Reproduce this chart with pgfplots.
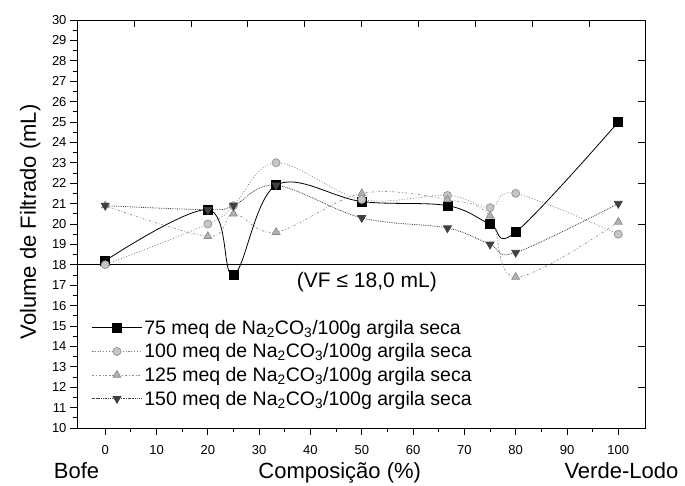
\documentclass[border=0pt]{standalone}
\usepackage{pgfplots}
\pgfplotsset{compat=1.18}
\usepackage{fontspec}
\setmainfont{Liberation Sans}
\begin{document}
\begin{tikzpicture}
\begin{axis}[
  name=ax,
  scale only axis,
  width=568pt, height=408pt,
  xmin=-5.5, xmax=105.2, ymin=10, ymax=30,
  xtick={0,10,...,100}, minor x tick num=1,
  ytick={10,11,...,30}, minor y tick num=1,
  tick align=outside,
  xtick pos=left, ytick pos=left,
  major tick length=7pt, minor tick length=4pt,
  tick style={black, line width=0.8pt},
  axis line style={line width=0.9pt},
  ticklabel style={font=\fontsize{13}{15}\selectfont},
  xticklabel style={yshift=-7pt},
  /pgf/number format/assume math mode=true,
  clip=false,
  legend style={at={(0.02,0.275)}, anchor=north west, draw=none, fill=none,
    font=\fontsize{19.5}{22}\selectfont, row sep=4pt, legend cell align=left},
  legend image code/.code={\draw[mark repeat=2,mark phase=2,#1] plot coordinates {(0pt,0pt)(25pt,0pt)(50pt,0pt)};},
]
\addplot[black, forget plot, line width=0.9pt] coordinates {(-5.5,18) (105.2,18)};

\addplot[black, line width=0.8pt, smooth, tension=0.6, mark=square*, mark size=4.5pt, mark options={solid, fill=black}]
  coordinates {(0,18.2)(20,20.7)(25,17.5)(33.3,21.9)(50,21.1)(66.7,20.9)(75,20.0)(80,19.6)(100,25.0)};
\addlegendentry{75 meq de Na\textsubscript{2}CO\textsubscript{3}/100g argila seca}

\addplot[gray, dotted, line width=0.8pt, smooth, tension=0.6, mark=*, mark size=4pt, mark options={solid, fill=gray!45, draw=gray!80}]
  coordinates {(0,18.0)(20,20.0)(25,20.9)(33.3,23.0)(50,21.2)(66.7,21.4)(75,20.8)(80,21.5)(100,19.5)};
\addlegendentry{100 meq de Na\textsubscript{2}CO\textsubscript{3}/100g argila seca}

\addplot[gray!90, dash pattern=on 2pt off 2pt on 0.6pt off 2pt, line width=0.7pt, smooth, tension=0.6, mark=triangle*, mark size=4.5pt, mark options={solid, fill=gray!60, draw=gray!90}]
  coordinates {(0,20.9)(20,19.4)(25,20.5)(33.3,19.6)(50,21.5)(66.7,21.2)(75,20.4)(80,17.4)(100,20.1)};
\addlegendentry{125 meq de Na\textsubscript{2}CO\textsubscript{3}/100g argila seca}

\addplot[black!75, densely dotted, line width=0.8pt, smooth, tension=0.6, mark=triangle*, mark size=4.5pt, mark options={solid, rotate=180, fill=black!75, draw=black!75}]
  coordinates {(0,20.9)(20,20.7)(25,20.9)(33.3,21.9)(50,20.3)(66.7,19.8)(75,19.0)(80,18.6)(100,21.0)};
\addlegendentry{150 meq de Na\textsubscript{2}CO\textsubscript{3}/100g argila seca}

\node[font=\fontsize{21}{24}\selectfont] at (axis cs:51,17.16) {(VF ≤ 18,0 mL)};
\node[font=\fontsize{22}{26}\selectfont, anchor=base] at (axis cs:45.7,7.5) {Composição (\%)};
\node[font=\fontsize{22}{26}\selectfont, anchor=base] at (axis cs:-5.6,7.5) {Bofe};
\node[font=\fontsize{22}{26}\selectfont, anchor=base] at (axis cs:100.6,7.5) {Verde-Lodo};
\node[font=\fontsize{22}{26}\selectfont, rotate=90] at (axis cs:-14.6,20.1) {Volume de Filtrado (mL)};
\end{axis}
\begin{axis}[
  scale only axis,
  width=568pt, height=408pt,
  xmin=-5.5, xmax=105.2, ymin=10, ymax=30,
  xtick={5.6,16.7,27.8,38.9,50,61.1,72.2,83.3,94.4},
  ytick={10,12,...,30},
  xtick pos=right, ytick pos=right,
  xticklabels={}, yticklabels={},
  tick align=inside, major tick length=7pt,
  tick style={black, line width=0.8pt},
  axis line style={line width=0.9pt},
]
\end{axis}
\pgfresetboundingbox
\path[use as bounding box] ([shift={(-77pt,-58pt)}]ax.south west) rectangle ([shift={(40pt,20pt)}]ax.north east);
\end{tikzpicture}
\end{document}
